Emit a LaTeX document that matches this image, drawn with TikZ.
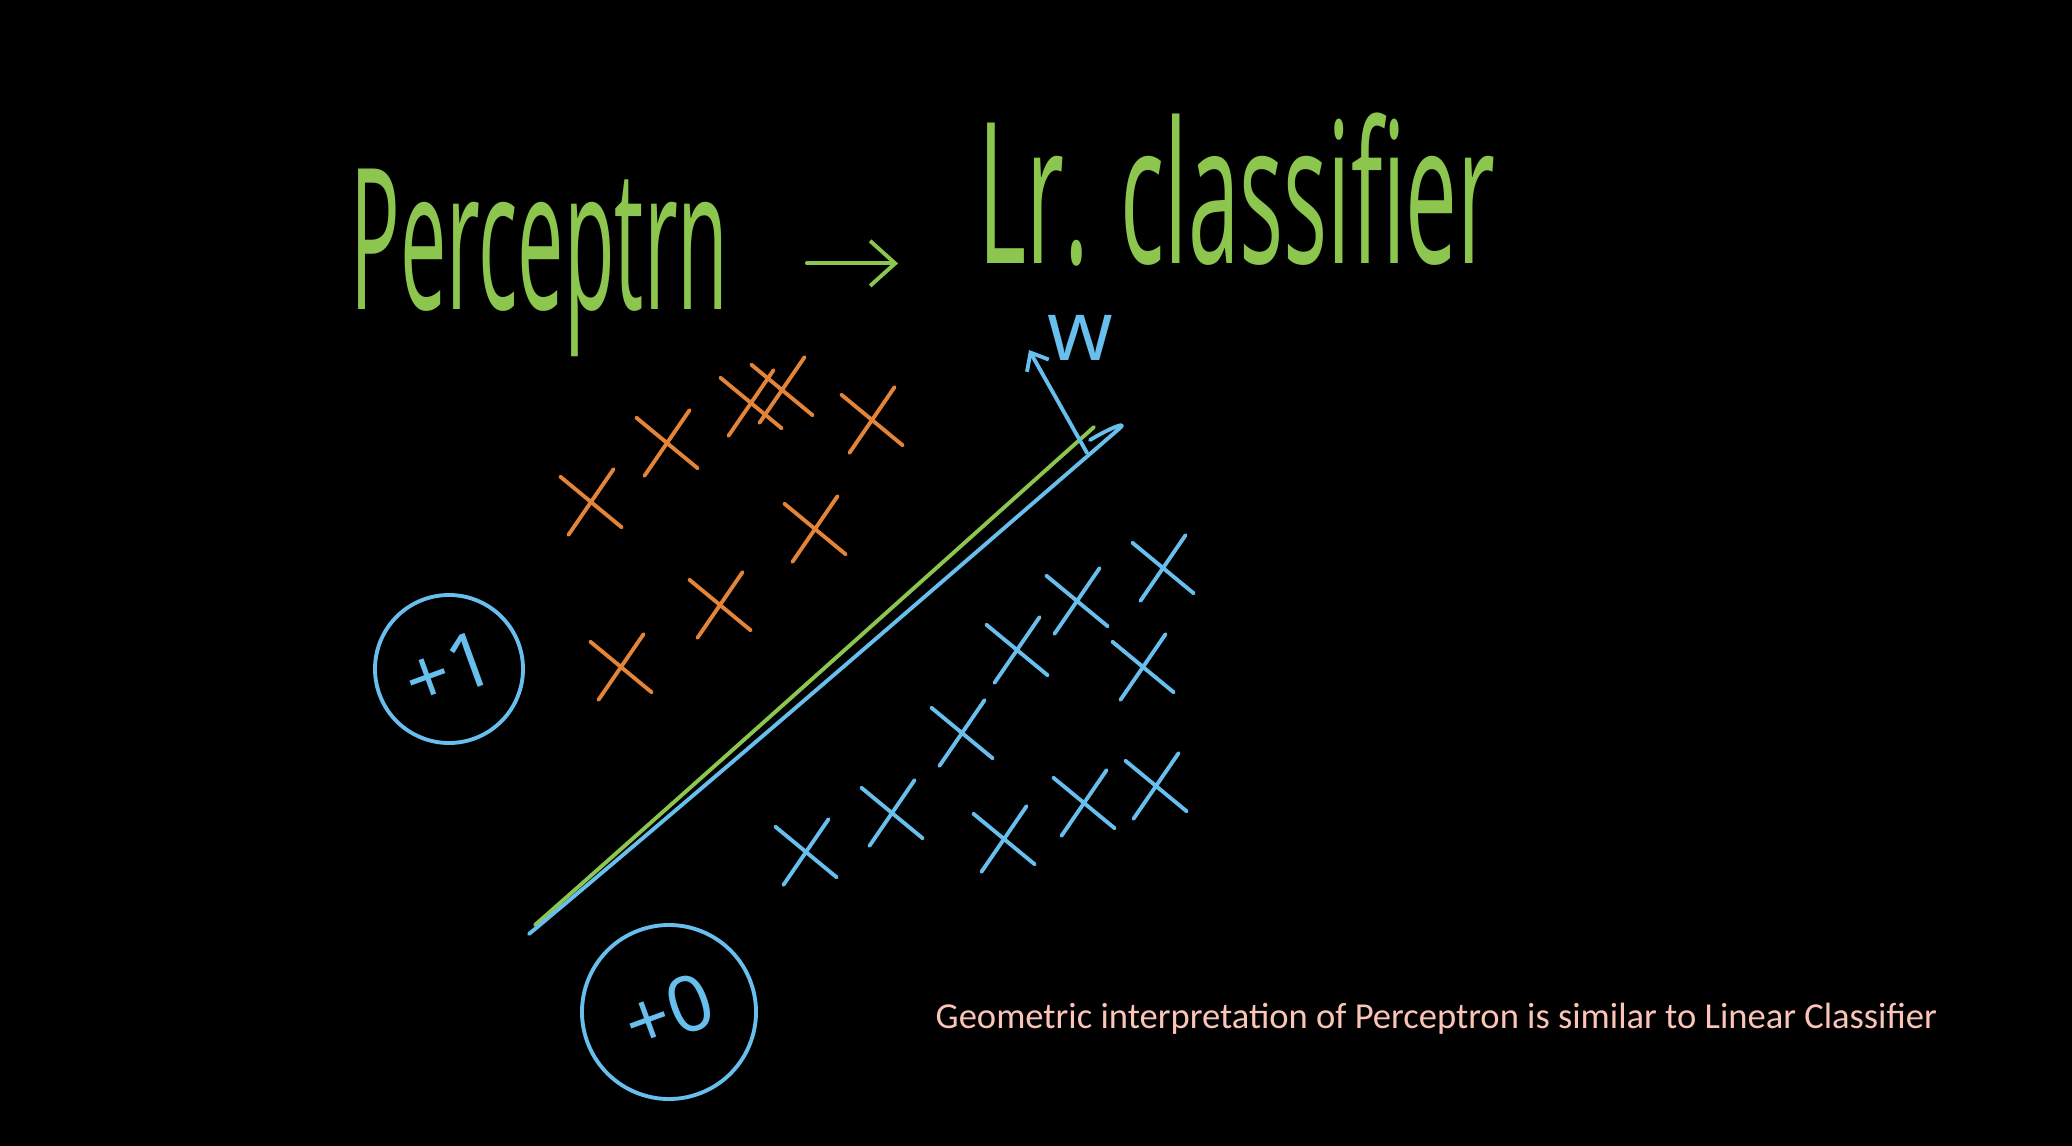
\documentclass[tikz,border=0pt]{standalone}
\usepackage{fontspec}
\setmainfont{Carlito}
\newfontfamily\handfont{Open Sans}
\usetikzlibrary{arrows.meta,calc,positioning,shapes.misc}
\definecolor{InkGreen}{RGB}{141,198,78}
\definecolor{InkOrange}{RGB}{228,132,56}
\definecolor{InkBlue}{RGB}{104,190,236}
\definecolor{CaptionPink}{RGB}{250,196,182}
\tikzset{
  ink/.style={line width=1.1pt,line cap=round,line join=round},
  xmark/.style={draw,ink,cross out,minimum width=5mm,minimum height=5.5mm,inner sep=0pt,rotate=8},
  posx/.style={xmark,InkOrange},
  negx/.style={xmark,InkBlue},
  classlab/.style={circle,draw=InkBlue,ink,text=InkBlue,inner sep=0pt,font=\handfont\fontsize{22}{22}\selectfont,rotate=20},
  titletext/.style={InkGreen,font=\handfont\fontsize{56}{56}\selectfont,anchor=base west,inner sep=0pt},
}
\begin{document}
\begin{tikzpicture}[x=.1mm,y=-.1mm]
\fill[black] (0,0) rectangle (2072,1146);
% title
\node[titletext,xscale=.42] (perc) at (350,310) {Perceptrn};
\node[titletext,xscale=.47] (lrc) at (978,264) {Lr. classifier};
\draw[ink,InkGreen,-{Straight Barb[length=2.5mm,width=4.5mm]},shorten <=7.8mm,shorten >=8mm] (perc.east) -- (perc.east -| lrc.west);
% separating line and its normal
\draw[ink,InkGreen] (535,925) .. controls (720,762) and (905,596) .. (1094,427);
\draw[ink,InkBlue] (529,934) .. controls (725,770) and (915,605) .. (1120,428) .. controls (1128,421) and (1110,428) .. (1090,440);
\coordinate (wbase) at (1087,453);
\coordinate (wtip) at (1029,350);
\draw[ink,InkBlue,-{Straight Barb[length=1.5mm,width=2.5mm]}] (wbase) -- (wtip);
\node[InkBlue,font=\handfont\fontsize{24}{24}\selectfont,inner sep=0pt] (wlab) at (1080,338) {w};
% class +1
\foreach \px/\py [count=\i] in {591/502,667/443,751/403,782/390,872/420,815/529,720/605,621/667}
  \node[posx] (pos\i) at (\px,\py) {};
\node[classlab,minimum size=14.8mm] (plusone) at (449,669) {+1};
% class 0
\foreach \px/\py [count=\i] in {1163/568,1077/601,1017/650,1143/667,962/733,892/813,806/852,1004/839,1084/803,1156/786}
  \node[negx] (neg\i) at (\px,\py) {};
\node[classlab,minimum size=17.4mm] (pluszero) at (669,1012) {+0};
\node[CaptionPink,font=\fontsize{10.4}{12}\selectfont,anchor=west,inner sep=0pt] (caption) at (935,1019) {Geometric interpretation of Perceptron is similar to Linear Classifier};
\end{tikzpicture}
\end{document}
